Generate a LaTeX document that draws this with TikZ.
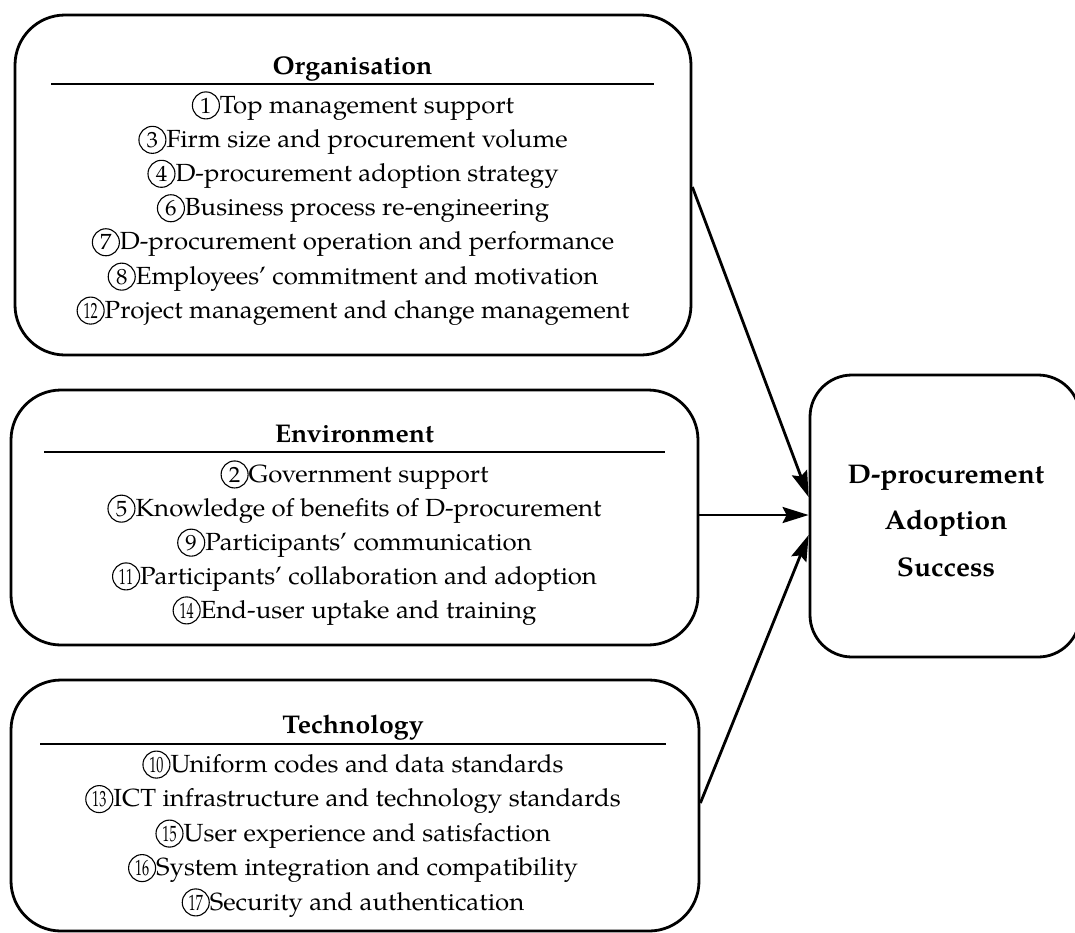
\documentclass[tikz,border=0pt]{standalone}
\usepackage{fontspec}
\usepackage{graphicx}
\setmainfont[FakeStretch=1.04]{TeX Gyre Pagella}
\usetikzlibrary{arrows.meta}
% circled factor number set in front of each item
\newcommand\cnum[1]{\tikz[baseline=(cn.base)]\node[circle,draw,line width=0.55pt,
  inner sep=0pt,minimum size=13.5pt,font=\fontsize{11}{11}\selectfont](cn){#1};}
\newcommand\cnumm[1]{\cnum{\scalebox{0.62}[1]{#1}}}

\begin{document}
\begin{tikzpicture}[x=0.5pt,y=-0.5pt,
  panel/.style={draw, line width=1.4pt, rounded corners=25pt, inner sep=0pt},
  heading/.style={font=\bfseries\fontsize{12.8}{14}\selectfont, anchor=base, inner sep=0pt},
  item/.style={font=\fontsize{12.4}{14}\selectfont, anchor=base, inner sep=0pt},
  rule/.style={line width=0.8pt},
  link/.style={line width=1.4pt, -{Stealth[length=13pt,width=8pt,inset=2pt]}}]

\useasboundingbox (0,0) rectangle (1075,932);

% ---- Organisation ----
\node[panel, minimum width=338pt, minimum height=170pt] (org) at (353,185) {};
\node[heading] (orgtitle) at (352.5,74) {Organisation};
\draw[rule] (51,84) -- (654,84);
\foreach \t [count=\i from 0] in {
  {\cnum{1}Top management support},
  {\cnum{3}Firm size and procurement volume},
  {\cnum{4}D-procurement adoption strategy},
  {\cnum{6}Business process re-engineering},
  {\cnum{7}D-procurement operation and performance},
  {\cnum{8}Employees’ commitment and motivation},
  {\cnumm{12}Project management and change management}}
  \node[item] (org-\i) at (353,113+34.2*\i) {\t};

% ---- Environment ----
\node[panel, minimum width=343.5pt, minimum height=127.5pt] (env) at (354.5,517.5) {};
\node[heading] (envtitle) at (354.5,442) {Environment};
\draw[rule] (44,452) -- (665,452);
\foreach \t [count=\i from 0] in {
  {\cnum{2}Government support},
  {\cnum{5}Knowledge of benefits of D-procurement},
  {\cnum{9}Participants’ communication},
  {\cnumm{11}Participants’ collaboration and adoption},
  {\cnumm{14}End-user uptake and training}}
  \node[item] (env-\i) at (354.5,482+34*\i) {\t};

% ---- Technology ----
\node[panel, minimum width=344pt, minimum height=125.5pt] (tech) at (355,805.5) {};
\node[heading] (techtitle) at (353,733) {Technology};
\draw[rule] (40,744) -- (666,744);
\foreach \t [count=\i from 0] in {
  {\cnumm{10}Uniform codes and data standards},
  {\cnumm{13}ICT infrastructure and technology standards},
  {\cnumm{15}User experience and satisfaction},
  {\cnumm{16}System integration and compatibility},
  {\cnumm{17}Security and authentication}}
  \node[item] (tech-\i) at (353,772+34.5*\i) {\t};

% ---- Outcome ----
\node[panel, rounded corners=21pt, minimum width=135pt, minimum height=141pt] (tgt) at (945,516) {};
\node[align=center, inner sep=0pt, font=\bfseries\fontsize{13.5}{23.25}\selectfont] (tgttext) at (946,521)
      {D-procurement\\Adoption\\Success};

% ---- Links ----
\draw[link] (org.east |- 0,187) -- (tgt.west |- 0,497);
\draw[link] (env.east |- 0,515) -- (tgt.west |- 0,515);
\draw[link] (tech.east |- 0,803) -- (tgt.west |- 0,535);
\end{tikzpicture}
\end{document}
